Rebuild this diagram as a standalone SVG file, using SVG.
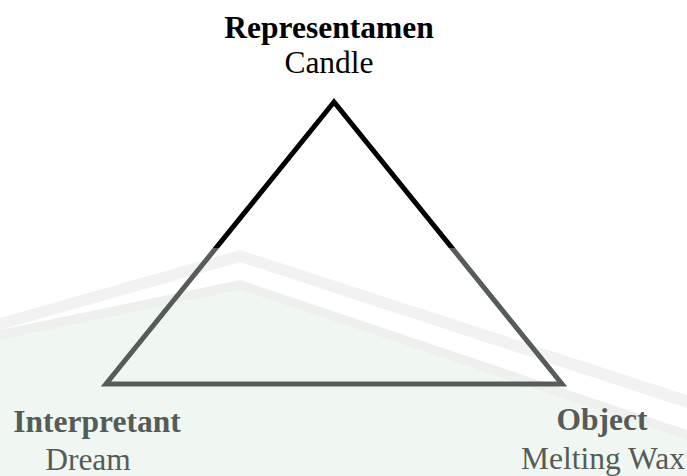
<svg xmlns="http://www.w3.org/2000/svg" width="687" height="476" viewBox="0 0 687 476">
<style>
text{font-family:"Liberation Serif","Times New Roman",serif;font-size:31.5px;text-anchor:middle}
.b{font-weight:bold}
.top{fill:#000}
.low{fill:#555c57}
</style>
<defs>
<linearGradient id="sg" x1="0" y1="0" x2="0" y2="476" gradientUnits="userSpaceOnUse">
<stop offset="0.521" stop-color="#000"/>
<stop offset="0.521" stop-color="#565c58"/>
</linearGradient>
</defs>
<rect width="687" height="476" fill="#fff"/>
<g id="watermark">
<path d="M0 476 L0 340 L240 290 L687 440 L687 476 Z" fill="#f0f7f2"/>
<path d="M0 318 L240 250 L687 395 L687 408 L240 262 L0 330 Z" fill="#f1f2f1"/>
<path d="M0 330 L240 280 L687 430 L687 440 L240 290 L0 340 Z" fill="#eef0ee"/>
</g>
<g id="connectors">
<path d="M334 102 L106 384 L562 384 Z" fill="none" stroke="url(#sg)" stroke-width="5" stroke-linejoin="miter"/>
</g>
<g id="representamen">
<text class="b top" x="329" y="38">Representamen</text>
<text class="top" x="329" y="73">Candle</text>
</g>
<g id="interpretant">
<text class="b low" x="97" y="432">Interpretant</text>
<text class="low" x="88" y="470">Dream</text>
</g>
<g id="object">
<text class="b low" x="602" y="430">Object</text>
<text class="low" x="603" y="469">Melting Wax</text>
</g>
</svg>
